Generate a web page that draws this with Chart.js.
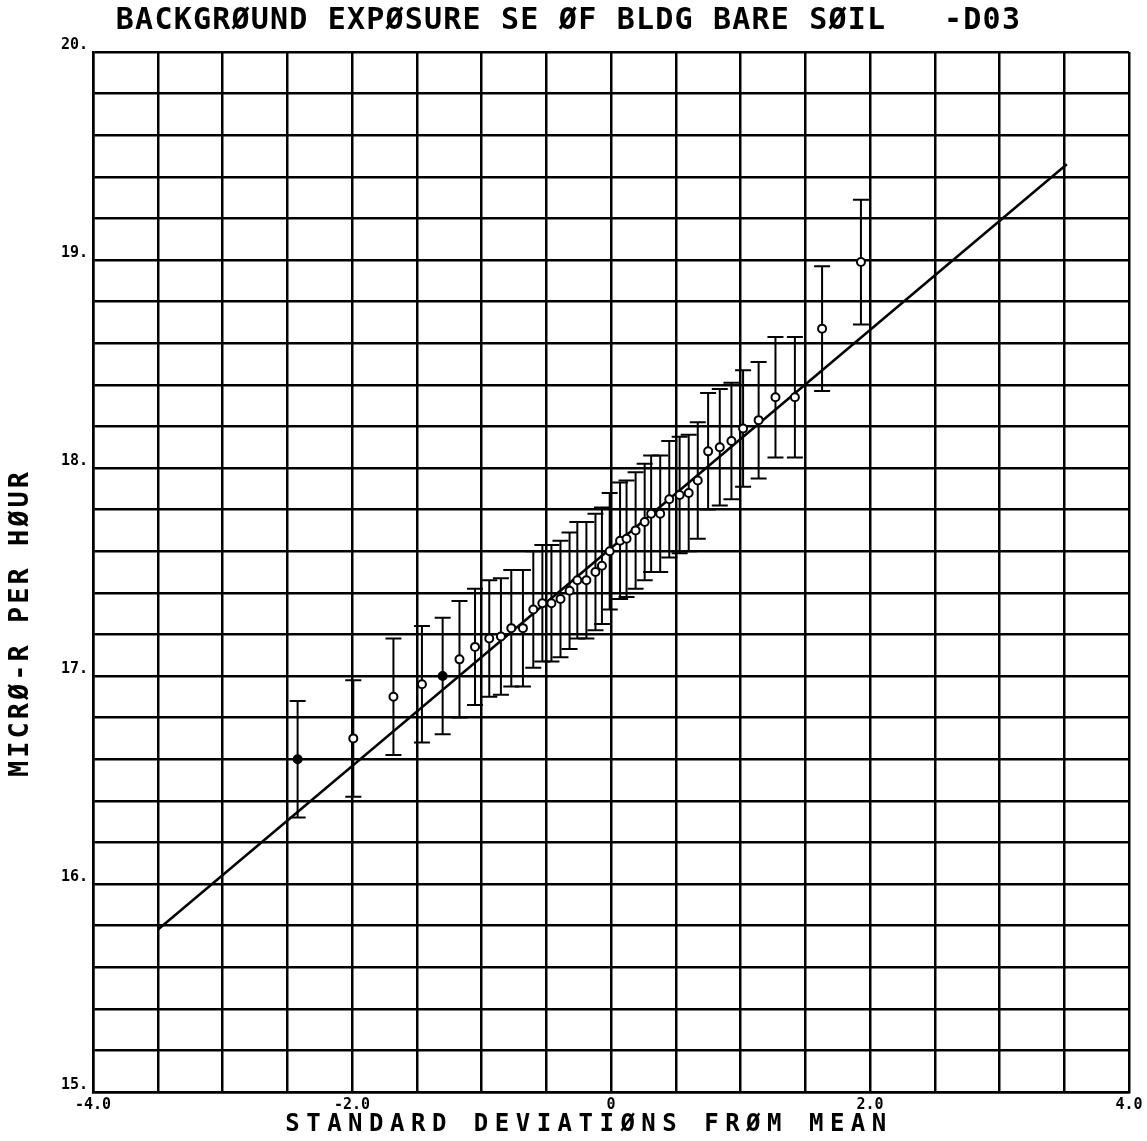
<!DOCTYPE html>
<html><head><meta charset="utf-8">
<script src="https://cdn.jsdelivr.net/npm/chart.js@4.4.1/dist/chart.umd.min.js"></script>
<style>html,body{margin:0;padding:0;background:#fff}</style>
</head><body>
<canvas id="c" width="1147" height="1141"></canvas>
<script>
// ---- data ----
const chartTitle = 'BACKGRØUND EXPØSURE SE ØF BLDG BARE SØIL   -D03';
const xTitle = 'STANDARD DEVIATIØNS FRØM MEAN';
const yTitle = 'MICRØ-R PER HØUR';

// standard deviations from mean (x) of each measurement
const sdValues = [-2.42, -1.99, -1.68, -1.46, -1.30, -1.17, -1.05, -0.94, -0.85, -0.77,
                  -0.68, -0.60, -0.53, -0.46, -0.39, -0.32, -0.26, -0.19, -0.12, -0.07,
                  -0.01, 0.07, 0.12, 0.19, 0.26, 0.31, 0.38, 0.45, 0.53, 0.60,
                  0.67, 0.75, 0.84, 0.93, 1.02, 1.14, 1.27, 1.42, 1.63, 1.93];
// exposure rate (micro-R per hour)
const exposure = [16.60, 16.70, 16.90, 16.96, 17.00, 17.08, 17.14, 17.18, 17.19, 17.23,
                  17.23, 17.32, 17.35, 17.35, 17.37, 17.41, 17.46, 17.46, 17.50, 17.53,
                  17.60, 17.65, 17.66, 17.70, 17.74, 17.78, 17.78, 17.85, 17.87, 17.88,
                  17.94, 18.08, 18.10, 18.13, 18.19, 18.23, 18.34, 18.34, 18.67, 18.99];
// error bar half-width (micro-R per hour)
const errors =   [0.28, 0.28, 0.28, 0.28, 0.28, 0.28, 0.28, 0.28, 0.28, 0.28,
                  0.28, 0.28, 0.28, 0.28, 0.28, 0.28, 0.28, 0.28, 0.28, 0.28,
                  0.28, 0.28, 0.28, 0.28, 0.28, 0.28, 0.28, 0.28, 0.28, 0.28,
                  0.28, 0.28, 0.28, 0.28, 0.28, 0.28, 0.29, 0.29, 0.30, 0.30];
// fitted normal line end points
const fitX = [-3.50, 3.52];
const fitY = [15.78, 19.46];
// axis ticks
const xLabelValues = [-4, -2, 0, 2, 4];
const xLabelTexts = ['-4.0', '-2.0', '0', '2.0', '4.0'];
const yLabelValues = [15, 16, 17, 18, 19, 20];
const yLabelTexts = ['15.', '16.', '17.', '18.', '19.', '20.'];
const filledPoints = [0, 4];

const INK = '#000';
const MONO = "'DejaVu Sans Mono', 'Liberation Mono', monospace";

const errorBarPlugin = {
  id: 'errorBars',
  beforeDatasetsDraw(chart) {
    const {ctx, scales: {x, y}} = chart;
    ctx.save();
    ctx.strokeStyle = INK;
    ctx.lineWidth = 2;
    const cap = 8;
    sdValues.forEach((v, i) => {
      const px = x.getPixelForValue(v);
      const top = y.getPixelForValue(exposure[i] + errors[i]);
      const bot = y.getPixelForValue(exposure[i] - errors[i]);
      ctx.beginPath();
      ctx.moveTo(px, top); ctx.lineTo(px, bot);
      ctx.moveTo(px - cap, top); ctx.lineTo(px + cap, top);
      ctx.moveTo(px - cap, bot); ctx.lineTo(px + cap, bot);
      ctx.stroke();
    });
    ctx.restore();
  }
};

function wrap(obj, name, spacing, dx, dy, ctx) {
  if (!obj || obj['__w_' + name]) return;
  const orig = obj[name];
  obj['__w_' + name] = true;
  obj[name] = function (...args) {
    ctx.save();
    ctx.translate(dx, dy);
    if ('letterSpacing' in ctx) ctx.letterSpacing = spacing;
    const r = orig.apply(this, args);
    ctx.restore();
    return r;
  };
}
const spacingPlugin = {
  id: 'spacing',
  beforeDraw(chart) {
    const ctx = chart.ctx;
    wrap(chart.titleBlock, 'draw', '1.2px', 4, 1, ctx);
    wrap(chart.scales.x, 'drawTitle', '6.5px', -22, 0, ctx);
    wrap(chart.scales.y, 'drawTitle', '3px', 0, 51, ctx);
  }
};

function labelFor(values, texts, v) {
  const i = values.findIndex(t => Math.abs(t - v) < 1e-6);
  return i >= 0 ? texts[i] : '';
}

new Chart(document.getElementById('c'), {
  type: 'scatter',
  data: {
    datasets: [
      {
        label: 'Measurements',
        data: sdValues.map((v, i) => ({x: v, y: exposure[i]})),
        pointRadius: 4,
        pointBorderWidth: 2,
        pointBorderColor: INK,
        pointBackgroundColor: c => filledPoints.includes(c.dataIndex) ? INK : '#fff',
        showLine: false
      },
      {
        label: 'Normal fit',
        data: fitX.map((v, i) => ({x: v, y: fitY[i]})),
        showLine: true,
        borderColor: INK,
        borderWidth: 2.5,
        pointRadius: 0
      }
    ]
  },
  options: {
    responsive: false,
    animation: false,
    devicePixelRatio: 1,
    layout: {padding: {left: 0, right: 18, top: 0, bottom: 0}},
    plugins: {
      legend: {display: false},
      tooltip: {enabled: false},
      title: {
        display: true, text: chartTitle, color: INK,
        font: {family: MONO, size: 30, weight: 'bold'},
        padding: {top: 2, bottom: 14}
      }
    },
    scales: {
      x: {
        type: 'linear', min: -4, max: 4,
        afterFit(s) { s.height = 49; },
        ticks: {
          stepSize: 0.5, autoSkip: false, maxRotation: 0, color: INK, padding: 4,
          font: {family: MONO, size: 15, weight: 'bold'},
          callback: v => labelFor(xLabelValues, xLabelTexts, v)
        },
        grid: {color: INK, lineWidth: 2.5, drawTicks: false},
        border: {color: INK, width: 2.5},
        title: {
          display: true, text: xTitle, color: INK,
          font: {family: MONO, size: 24, weight: 'bold'},
          padding: {top: 0, bottom: 2}
        }
      },
      y: {
        type: 'linear', min: 15, max: 20,
        afterFit(s) { s.width = 93; },
        ticks: {
          stepSize: 0.2, autoSkip: false, color: INK, padding: 5, labelOffset: -7,
          font: {family: MONO, size: 15, weight: 'bold'},
          callback: v => labelFor(yLabelValues, yLabelTexts, v)
        },
        grid: {color: INK, lineWidth: 2.5, drawTicks: false},
        border: {color: INK, width: 2.5},
        title: {
          display: true, text: yTitle, color: INK,
          font: {family: MONO, size: 27, weight: 'bold'},
          padding: {top: 5, bottom: 0}
        }
      }
    }
  },
  plugins: [errorBarPlugin, spacingPlugin]
});
</script>
</body></html>
